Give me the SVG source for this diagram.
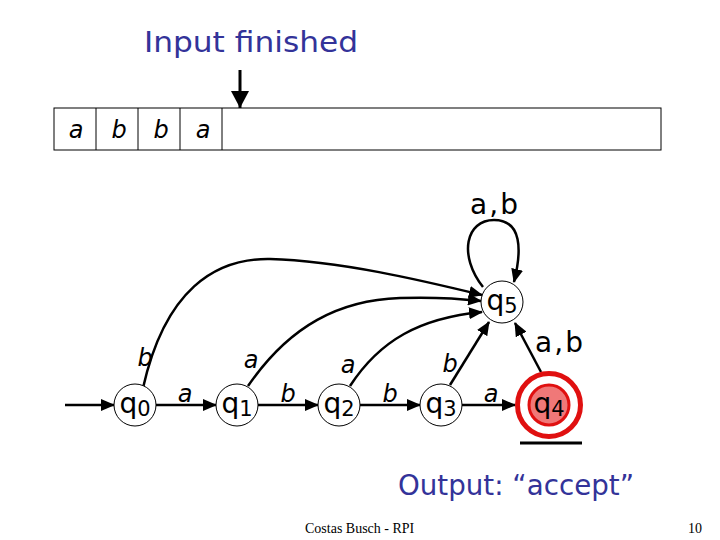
<svg xmlns="http://www.w3.org/2000/svg" width="720" height="540" viewBox="0 0 720 540">
<defs>
<marker id="ah" markerUnits="userSpaceOnUse" markerWidth="14" markerHeight="12" refX="13" refY="6" orient="auto">
<path d="M0,0 L14,6 L0,12 Z" fill="#000"/>
</marker>
<marker id="ahb" markerUnits="userSpaceOnUse" markerWidth="18" markerHeight="18" refX="17" refY="9" orient="auto">
<path d="M0,0 L17,9 L0,18 Z" fill="#000"/>
</marker>
<style>
.st{fill:#fff;stroke:#000;stroke-width:1}
.ql{font-family:"DejaVu Sans",sans-serif;font-size:28px;fill:#000}
.sub{font-size:21px}
.el{font-family:"DejaVu Sans",sans-serif;font-size:24px;font-style:oblique;fill:#000}
.big{font-family:"DejaVu Sans",sans-serif;font-size:28px;fill:#000;letter-spacing:2px}
.blue{font-family:"DejaVu Sans",sans-serif;font-size:28px;fill:#333399}
.ed{fill:none;stroke:#000;stroke-width:2.5;marker-end:url(#ah)}
</style>
</defs>
<rect width="720" height="540" fill="#fff"/>

<text class="blue" x="144" y="52" textLength="214" lengthAdjust="spacingAndGlyphs">Input finished</text>
<line x1="240" y1="70" x2="240" y2="108" stroke="#000" stroke-width="3" marker-end="url(#ahb)"/>

<g id="tape">
<rect x="54" y="108" width="607" height="42" fill="#fff" stroke="#000" stroke-width="1"/>
<line x1="96" y1="108" x2="96" y2="150" stroke="#000"/>
<line x1="138" y1="108" x2="138" y2="150" stroke="#000"/>
<line x1="180" y1="108" x2="180" y2="150" stroke="#000"/>
<line x1="222" y1="108" x2="222" y2="150" stroke="#000"/>
<text class="el" x="76" y="138" text-anchor="middle">a</text>
<text class="el" x="119" y="138" text-anchor="middle">b</text>
<text class="el" x="161" y="138" text-anchor="middle">b</text>
<text class="el" x="203" y="138" text-anchor="middle">a</text>
</g>

<g id="connectors">
<line class="ed" x1="65" y1="405" x2="114" y2="405"/>
<line class="ed" x1="156" y1="405" x2="216" y2="405"/>
<line class="ed" x1="258" y1="405" x2="318" y2="405"/>
<line class="ed" x1="360" y1="405" x2="420" y2="405"/>
<line class="ed" x1="462" y1="405" x2="515" y2="405"/>
<path class="ed" d="M143,388 C165,290 215,258 270,259 C340,261 420,280 482,295"/>
<path class="ed" d="M248,386 C290,325 340,300 400,298 C430,297 455,298 481,301"/>
<path class="ed" d="M350,386 C380,340 420,318 482,312"/>
<line class="ed" x1="450" y1="385" x2="489" y2="322"/>
<line class="ed" x1="541" y1="372" x2="515" y2="323"/>
<path class="ed" d="M483,287 C458,255 466,220 494,220 C522,220 522,250 514,282"/>
<text class="el" x="185" y="402" text-anchor="middle">a</text>
<text class="el" x="288" y="402" text-anchor="middle">b</text>
<text class="el" x="390" y="402" text-anchor="middle">b</text>
<text class="el" x="491" y="402" text-anchor="middle">a</text>
<text class="el" x="145" y="366" text-anchor="middle">b</text>
<text class="el" x="251" y="368" text-anchor="middle">a</text>
<text class="el" x="348" y="373" text-anchor="middle">a</text>
<text class="el" x="450" y="372" text-anchor="middle">b</text>
<text class="big" x="495" y="214" text-anchor="middle">a,b</text>
<text class="big" x="560" y="352" text-anchor="middle">a,b</text>
</g>

<g id="q0"><circle class="st" cx="135" cy="405" r="21"/><text class="ql" x="135" y="413" text-anchor="middle">q<tspan class="sub" dy="3">0</tspan></text></g>
<g id="q1"><circle class="st" cx="237" cy="405" r="21"/><text class="ql" x="237" y="413" text-anchor="middle">q<tspan class="sub" dy="3">1</tspan></text></g>
<g id="q2"><circle class="st" cx="339" cy="405" r="21"/><text class="ql" x="339" y="413" text-anchor="middle">q<tspan class="sub" dy="3">2</tspan></text></g>
<g id="q3"><circle class="st" cx="441" cy="405" r="21"/><text class="ql" x="441" y="413" text-anchor="middle">q<tspan class="sub" dy="3">3</tspan></text></g>
<g id="q4">
<circle cx="549" cy="405" r="31.5" fill="#fff" stroke="#e01010" stroke-width="5"/>
<circle cx="549" cy="405" r="20" fill="#f07878" stroke="#e01010" stroke-width="3"/>
<text class="ql" x="549" y="413" text-anchor="middle">q<tspan class="sub" dy="3">4</tspan></text>
<line x1="520" y1="443" x2="582" y2="443" stroke="#000" stroke-width="3"/>
</g>
<g id="q5"><circle class="st" cx="502" cy="302" r="21"/><text class="ql" x="502" y="310" text-anchor="middle">q<tspan class="sub" dy="3">5</tspan></text></g>

<text class="blue" x="398" y="495" textLength="236" lengthAdjust="spacingAndGlyphs">Output: “accept”</text>
<text x="305" y="533" font-family="Liberation Serif,serif" font-size="14" fill="#000">Costas Busch - RPI</text>
<text x="702" y="533" font-family="Liberation Serif,serif" font-size="14" fill="#000" text-anchor="end">10</text>
</svg>
